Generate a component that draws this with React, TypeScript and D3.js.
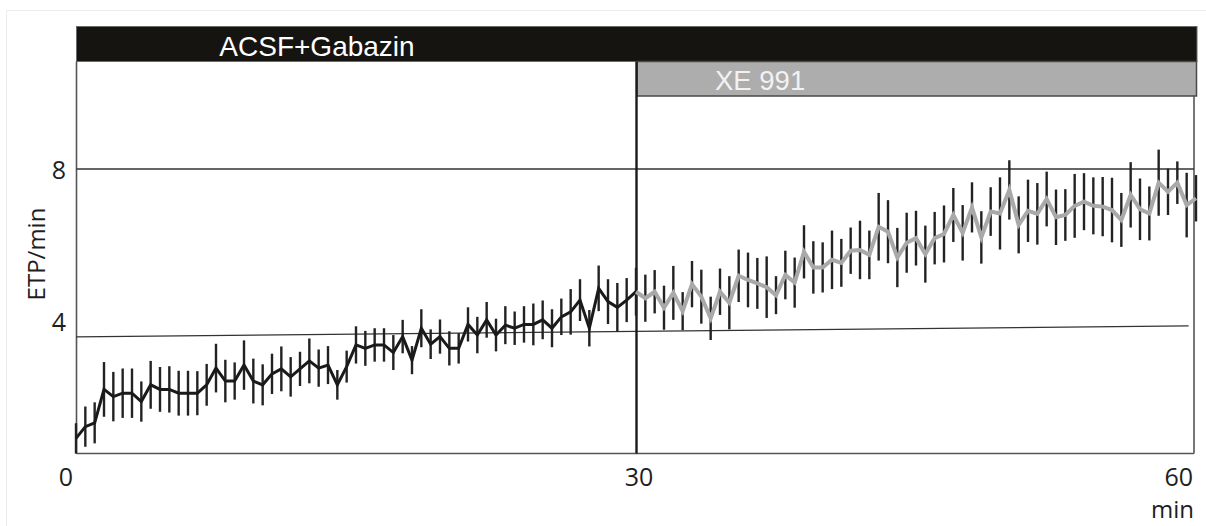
import React from "react";
import * as d3 from "d3";

// Sampling grid: one averaged point every half minute
const SAMPLE_INTERVAL = 0.5;

// ACSF + Gabazin phase, t = 0 … 30 min
const gabazinMean = [
  0.91, 1.22, 1.32, 2.2, 2.01, 2.1, 2.1, 1.88, 2.32, 2.2, 2.2, 2.1, 2.1, 2.1, 2.32, 2.76,
  2.42, 2.42, 2.84, 2.42, 2.32, 2.61, 2.74, 2.53, 2.74, 2.95, 2.76, 2.84, 2.32, 2.8, 3.37,
  3.28, 3.37, 3.37, 3.17, 3.59, 2.97, 3.81, 3.39, 3.59, 3.28, 3.28, 3.91, 3.63, 4.03, 3.63,
  3.89, 3.81, 3.91, 3.91, 4.03, 3.81, 4.11, 4.24, 4.55, 3.81, 4.86, 4.51, 4.36, 4.55, 4.77,
];
const gabazinSem = [
  0.4, 0.53, 0.54, 0.72, 0.65, 0.65, 0.65, 0.53, 0.63, 0.59, 0.61, 0.59, 0.59, 0.58, 0.55, 0.64,
  0.56, 0.49, 0.65, 0.59, 0.54, 0.53, 0.59, 0.52, 0.45, 0.59, 0.49, 0.5, 0.39, 0.42, 0.49,
  0.46, 0.44, 0.44, 0.46, 0.44, 0.37, 0.5, 0.39, 0.45, 0.45, 0.4, 0.45, 0.48, 0.47, 0.43,
  0.5, 0.44, 0.48, 0.55, 0.51, 0.5, 0.48, 0.6, 0.55, 0.48, 0.6, 0.59, 0.64, 0.58, 0.63,
];

// XE 991 phase, t = 30 … 60 min
const xeMean = [
  4.77, 4.6, 4.77, 4.35, 4.74, 4.26, 4.97, 4.64, 4.07, 4.77, 4.48, 5.19, 5.08, 4.99, 4.89, 4.68,
  5.21, 5.01, 5.82, 5.41, 5.41, 5.61, 5.53, 5.85, 5.87, 5.74, 6.48, 6.35, 5.67, 6.06, 6.18,
  5.76, 6.18, 6.29, 6.79, 6.32, 6.99, 6.2, 6.88, 6.83, 7.45, 6.53, 6.9, 6.82, 7.21, 6.73,
  6.79, 7.03, 7.14, 7.03, 7.01, 6.92, 6.66, 7.32, 6.94, 6.83, 7.64, 7.4, 7.64, 7.05, 7.23,
];
const xeSem = [
  0.63, 0.62, 0.57, 0.58, 0.71, 0.5, 0.61, 0.71, 0.57, 0.61, 0.7, 0.69, 0.72, 0.67, 0.81, 0.5,
  0.64, 0.66, 0.7, 0.69, 0.66, 0.77, 0.63, 0.61, 0.77, 0.64, 0.89, 0.83, 0.78, 0.79, 0.72,
  0.75, 0.69, 0.75, 0.71, 0.73, 0.66, 0.69, 0.64, 0.95, 0.78, 0.75, 0.82, 0.81, 0.72, 0.73,
  0.68, 0.84, 0.75, 0.75, 0.78, 0.85, 0.71, 0.86, 0.81, 0.71, 0.87, 0.61, 0.56, 0.85, 0.61,
];

// Baseline trend line (start / end)
const trendTimes = [0, 59.6];
const trendValues = [3.58, 3.87];

const gabazinStart = 0;
const xeStart = 30;

const xTickValues = [0, 30, 60];
const xTickLabels = ["0", "30", "60"];
const yTickValues = [4, 8];
const yTickLabels = ["4", "8"];
const referenceLevel = 8;

const phaseLabels = ["ACSF+Gabazin", "XE 991"];

type Pt = { t: number; v: number; e: number };

const toPoints = (start: number, mean: number[], sem: number[]): Pt[] =>
  mean.map((v, i) => ({ t: start + i * SAMPLE_INTERVAL, v, e: sem[i] }));

export default function App() {
  const W = 1206;
  const H = 526;

  const x = d3.scaleLinear().domain([0, 60]).range([76, 1196]);
  const y = d3.scaleLinear().domain([0, 8]).range([473, 169]);

  const plotLeft = 76.5;
  const plotRight = 1194;
  const plotBottom = 453.5;
  const barTop = 26.5;
  const barMid = 61.5;
  const barBottom = 96;

  const gab = toPoints(gabazinStart, gabazinMean, gabazinSem);
  const xe = toPoints(xeStart, xeMean, xeSem);

  const line = d3
    .line<Pt>()
    .x((d) => x(d.t))
    .y((d) => y(d.v));

  const trend = d3
    .line<number>()
    .x((_, i) => x(trendTimes[i]))
    .y((d) => y(d));

  const tickFont = "'Open Sans', 'DejaVu Sans', sans-serif";
  const barFont = "'Liberation Sans', Arial, sans-serif";
  const ink = "#1e1e1e";

  const errorBars = (pts: Pt[], key: string) =>
    pts.map((d, i) => (
      <line
        key={key + i}
        x1={x(d.t)}
        x2={x(d.t)}
        y1={y(d.v - d.e)}
        y2={y(d.v + d.e)}
        stroke="#222"
        strokeWidth={2.4}
      />
    ));

  return (
    <div style={{ position: "absolute", left: 0, top: 0 }}>
      <svg width={W} height={H} style={{ display: "block", background: "#fff" }}>
        {/* faint outer border */}
        <rect x={6.5} y={10.5} width={W + 20} height={H + 20} fill="none" stroke="#ececec" strokeWidth={1} />

        {/* phase bars */}
        <rect
          x={plotLeft}
          y={barTop}
          width={1197 - plotLeft}
          height={barMid - barTop}
          fill="#161410"
          stroke="#6a6a6a"
          strokeWidth={1}
        />
        <rect
          x={x(xeStart) + 1}
          y={barMid}
          width={1196.5 - x(xeStart) - 1}
          height={barBottom - barMid}
          fill="#adadad"
          stroke="#4a4a4a"
          strokeWidth={1.5}
        />
        <text
          x={317}
          y={55.5}
          textAnchor="middle"
          fontFamily={barFont}
          fontSize={28}
          fill="#ffffff"
        >
          {phaseLabels[0]}
        </text>
        <text x={715} y={89.5} fontFamily={barFont} fontSize={27.5} fill="#f2f2f2">
          {phaseLabels[1]}
        </text>

        {/* plot frame */}
        <line x1={plotLeft} x2={plotLeft} y1={barMid} y2={plotBottom} stroke="#555" strokeWidth={1.6} />
        <line x1={plotLeft} x2={plotRight} y1={plotBottom} y2={plotBottom} stroke="#555" strokeWidth={1.6} />
        <line x1={plotRight} x2={plotRight} y1={barBottom} y2={plotBottom} stroke="#555" strokeWidth={1.6} />

        {/* reference level and baseline trend */}
        <line
          x1={plotLeft}
          x2={plotRight}
          y1={y(referenceLevel)}
          y2={y(referenceLevel)}
          stroke="#333"
          strokeWidth={1.3}
        />
        <path d={trend(trendValues) ?? ""} fill="none" stroke="#333" strokeWidth={1.3} />

        {/* drug application marker */}
        <line
          x1={x(xeStart) + 0.5}
          x2={x(xeStart) + 0.5}
          y1={barMid}
          y2={plotBottom}
          stroke="#1a1a1a"
          strokeWidth={2.4}
        />

        {/* error bars */}
        {errorBars(gab, "g")}
        {errorBars(xe.slice(1), "x")}

        {/* mean traces */}
        <path d={line(gab) ?? ""} fill="none" stroke="#1a1a1a" strokeWidth={3} strokeLinejoin="miter" />
        <path d={line(xe) ?? ""} fill="none" stroke="#a9a9a9" strokeWidth={4} strokeLinejoin="miter" />

        {/* y ticks */}
        {yTickValues.map((v, i) => (
          <text
            key={"yt" + i}
            x={59}
            y={y(v)}
            dy="0.38em"
            textAnchor="middle"
            fontFamily={tickFont}
            fontSize={25}
            fill={ink}
          >
            {yTickLabels[i]}
          </text>
        ))}
        <text
          transform="translate(45,254) rotate(-90)"
          textAnchor="middle"
          fontFamily={tickFont}
          fontSize={24}
          fill={ink}
        >
          ETP/min
        </text>

        {/* x ticks */}
        {xTickValues.map((t, i) => (
          <text
            key={"xt" + i}
            x={i === 0 ? 73 : i === 2 ? 1193 : x(t) + 3}
            y={486}
            textAnchor={i === 0 ? "end" : i === 2 ? "end" : "middle"}
            fontFamily={tickFont}
            fontSize={25}
            fill={ink}
          >
            {xTickLabels[i]}
          </text>
        ))}
        <text x={1194} y={518} textAnchor="end" fontFamily={tickFont} fontSize={24} fill={ink}>
          min
        </text>
      </svg>
    </div>
  );
}
